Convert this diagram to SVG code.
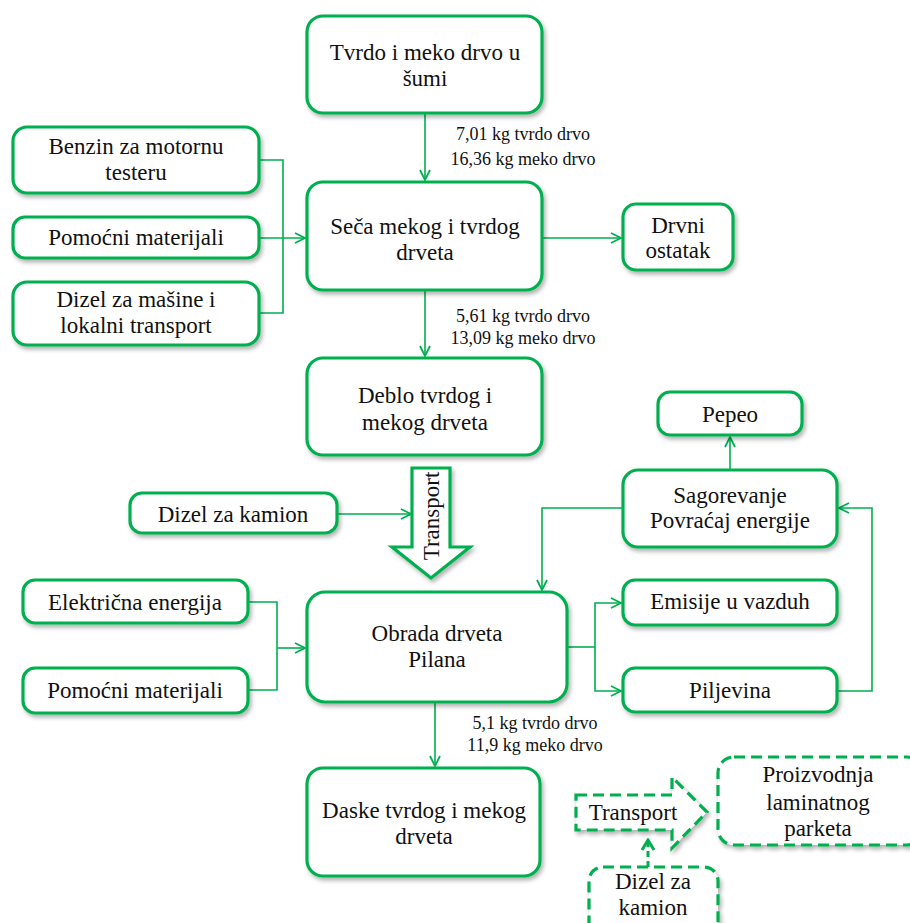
<svg xmlns="http://www.w3.org/2000/svg" width="910" height="923" viewBox="0 0 910 923">
  <style>
    .box { fill: #ffffff; stroke: #00b050; stroke-width: 3.2; filter: url(#shadow); }
    .dash { fill: #ffffff; stroke: #00b050; stroke-width: 3.2; stroke-dasharray: 11 6; filter: url(#shadow); }
    .t { font-family: 'Liberation Serif', 'DejaVu Serif', serif; font-size: 23px; fill: #111; text-anchor: middle; }
    .lbl { font-family: 'Liberation Serif', 'DejaVu Serif', serif; font-size: 18px; fill: #111; text-anchor: middle; }
    .ln { fill: none; stroke: #00b050; stroke-width: 1.6; }
    .arr { fill: none; stroke: #00b050; stroke-width: 1.6; marker-end: url(#head); }
    .darr { fill: none; stroke: #00b050; stroke-width: 3; stroke-dasharray: 6 4; marker-end: url(#dhead); }
  </style>
  <defs>
    <filter id="shadow" x="-10%" y="-10%" width="125%" height="135%">
      <feDropShadow dx="2" dy="3" stdDeviation="2" flood-color="#000" flood-opacity="0.3"/>
    </filter>
    <marker id="head" viewBox="0 0 12 12" refX="11" refY="6" markerWidth="12" markerHeight="12" markerUnits="userSpaceOnUse" orient="auto">
      <path d="M1,1 L11,6 L1,11" fill="none" stroke="#00b050" stroke-width="1.8"/>
    </marker>
    <marker id="dhead" viewBox="0 0 14 14" refX="12" refY="7" markerWidth="14" markerHeight="14" markerUnits="userSpaceOnUse" orient="auto">
      <path d="M2,1 L12,7 L2,13" fill="none" stroke="#00b050" stroke-width="3"/>
    </marker>
  </defs>

  <!-- connectors -->
  <g id="connectors">
    <path class="arr" d="M425,114 V180"/>
    <path class="ln" d="M259,160 H283 V313 H259"/>
    <path class="arr" d="M259,238 H305"/>
    <path class="arr" d="M542,238 H621"/>
    <path class="arr" d="M425,290 V356"/>
    <path class="arr" d="M337,514 H411"/>
    <path class="ln" d="M248,602 H277 V690 H248"/>
    <path class="arr" d="M277,648 H305"/>
    <path class="arr" d="M730,470 V437"/>
    <path class="arr" d="M623,508 H542 V590"/>
    <path class="ln" d="M567,647 H595"/>
    <path class="arr" d="M595,647 V603 H621"/>
    <path class="arr" d="M595,647 V691 H621"/>
    <path class="arr" d="M837,691 H872 V508 H839"/>
    <path class="arr" d="M435,702 V766"/>
    <path class="darr" d="M648,867 V840"/>
  </g>

  <g id="n-forest">
    <rect class="box" x="307" y="16" width="235" height="97" rx="16"/>
    <text class="t" x="425" y="60">Tvrdo i meko drvo u</text>
    <text class="t" x="425" y="86">šumi</text>
  </g>
  <text class="lbl" x="523" y="140">7,01 kg tvrdo drvo</text>
  <text class="lbl" x="523" y="165">16,36 kg meko drvo</text>

  <g id="n-benzin">
    <rect class="box" x="13" y="127" width="246" height="66" rx="14"/>
    <text class="t" x="136" y="154">Benzin za motornu</text>
    <text class="t" x="136" y="180">testeru</text>
  </g>
  <g id="n-pomocni1">
    <rect class="box" x="13" y="217" width="246" height="41" rx="12"/>
    <text class="t" x="136" y="245">Pomoćni materijali</text>
  </g>
  <g id="n-dizel1">
    <rect class="box" x="13" y="282" width="246" height="63" rx="14"/>
    <text class="t" x="136" y="307">Dizel za mašine i</text>
    <text class="t" x="136" y="333">lokalni transport</text>
  </g>

  <g id="n-seca">
    <rect class="box" x="307" y="182" width="235" height="108" rx="16"/>
    <text class="t" x="425" y="234">Seča mekog i tvrdog</text>
    <text class="t" x="425" y="260">drveta</text>
  </g>
  <g id="n-ostatak">
    <rect class="box" x="623" y="204" width="110" height="66" rx="13"/>
    <text class="t" x="678" y="233">Drvni</text>
    <text class="t" x="678" y="258">ostatak</text>
  </g>
  <text class="lbl" x="523" y="322">5,61 kg tvrdo drvo</text>
  <text class="lbl" x="523" y="344">13,09 kg meko drvo</text>

  <g id="n-deblo">
    <rect class="box" x="307" y="358" width="235" height="97" rx="16"/>
    <text class="t" x="425" y="403">Deblo tvrdog i</text>
    <text class="t" x="425" y="430">mekog drveta</text>
  </g>

  <g id="n-transport1">
    <path class="box" d="M412,468 H450 V547 H470 L431,578 L392,547 H412 Z"/>
    <text class="t" transform="translate(431,516) rotate(-90)" x="0" y="8">Transport</text>
  </g>
  <g id="n-dizel-kamion">
    <rect class="box" x="130" y="493" width="207" height="40" rx="12"/>
    <text class="t" x="233" y="522">Dizel za kamion</text>
  </g>

  <g id="n-pepeo">
    <rect class="box" x="658" y="392" width="144" height="43" rx="12"/>
    <text class="t" x="730" y="422">Pepeo</text>
  </g>
  <g id="n-sagorevanje">
    <rect class="box" x="623" y="470" width="214" height="77" rx="15"/>
    <text class="t" x="730" y="503">Sagorevanje</text>
    <text class="t" x="730" y="528">Povraćaj energije</text>
  </g>

  <g id="n-elektricna">
    <rect class="box" x="23" y="580" width="225" height="43" rx="12"/>
    <text class="t" x="135" y="610">Električna energija</text>
  </g>
  <g id="n-pomocni2">
    <rect class="box" x="23" y="668" width="225" height="45" rx="12"/>
    <text class="t" x="135" y="698">Pomoćni materijali</text>
  </g>

  <g id="n-obrada">
    <rect class="box" x="307" y="592" width="260" height="110" rx="18"/>
    <text class="t" x="437" y="641">Obrada drveta</text>
    <text class="t" x="437" y="667">Pilana</text>
  </g>
  <g id="n-emisije">
    <rect class="box" x="623" y="580" width="214" height="45" rx="12"/>
    <text class="t" x="730" y="609">Emisije u vazduh</text>
  </g>
  <g id="n-piljevina">
    <rect class="box" x="623" y="668" width="214" height="44" rx="12"/>
    <text class="t" x="730" y="698">Piljevina</text>
  </g>

  <text class="lbl" x="535" y="729">5,1 kg tvrdo drvo</text>
  <text class="lbl" x="535" y="751">11,9 kg meko drvo</text>

  <g id="n-daske">
    <rect class="box" x="307" y="768" width="233" height="108" rx="16"/>
    <text class="t" x="424" y="818">Daske tvrdog i mekog</text>
    <text class="t" x="424" y="844">drveta</text>
  </g>
  <g id="n-transport2">
    <path class="dash" d="M576,795 H672 V777 L707,812 L672,848 V830 H576 Z"/>
    <text class="t" x="633" y="820">Transport</text>
  </g>
  <g id="n-proizvodnja">
    <rect class="dash" x="718" y="757" width="205" height="88" rx="16"/>
    <text class="t" x="818" y="782">Proizvodnja</text>
    <text class="t" x="818" y="810">laminatnog</text>
    <text class="t" x="818" y="836">parketa</text>
  </g>
  <g id="n-dizel2">
    <rect class="dash" x="589" y="867" width="129" height="70" rx="14"/>
    <text class="t" x="653" y="889">Dizel za</text>
    <text class="t" x="653" y="915">kamion</text>
  </g>
</svg>
